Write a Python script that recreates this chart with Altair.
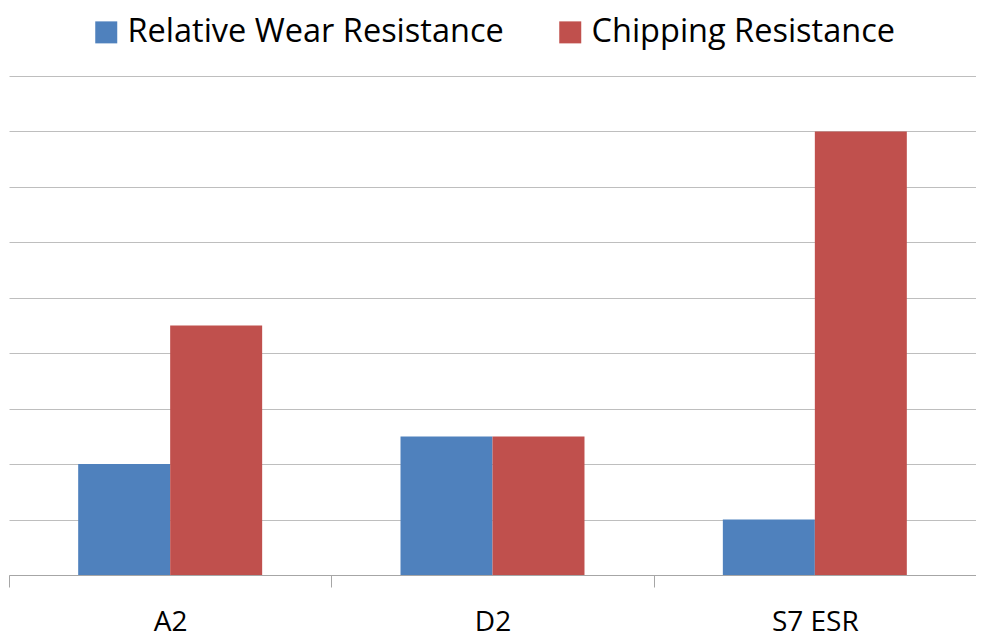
import altair as alt
import pandas as pd

categories = ["A2", "D2", "S7 ESR"]
series = ["Relative Wear Resistance", "Chipping Resistance"]
wear = [2, 2.5, 1]
chipping = [4.5, 2.5, 8]
colors = ["#4F81BD", "#C0504D"]

rows = []
for i, c in enumerate(categories):
    rows.append({"cat": c, "series": series[0], "value": wear[i]})
    rows.append({"cat": c, "series": series[1], "value": chipping[i]})
df = pd.DataFrame(rows)

FONT = "Open Sans"

chart = alt.Chart(df).mark_bar().encode(
    x=alt.X("cat:N", sort=categories, title=None,
            scale=alt.Scale(paddingInner=0, paddingOuter=0),
            axis=alt.Axis(labelAngle=0, labelFontSize=28, labelFont=FONT,
                          labelColor="#000000", tickBand="extent", ticks=True,
                          tickSize=12, tickColor="#A6A6A6", domainColor="#A6A6A6",
                          labelPadding=21, grid=False)),
    xOffset=alt.XOffset("series:N", sort=series,
                        scale=alt.Scale(paddingInner=0, paddingOuter=0.752)),
    y=alt.Y("value:Q", title=None,
            scale=alt.Scale(domain=[0, 9], nice=False),
            axis=alt.Axis(values=list(range(0, 10)), labels=False, ticks=False,
                          domain=False, grid=True, gridColor="#BEBEBE")),
    color=alt.Color("series:N", sort=series,
                    scale=alt.Scale(domain=series, range=colors),
                    legend=alt.Legend(title=None, orient="none", direction="horizontal",
                                      legendX=81, legendY=-60, padding=0,
                                      labelFont=FONT, labelFontSize=32.5,
                                      labelColor="#000000", symbolType="square",
                                      symbolSize=484, symbolStrokeWidth=0,
                                      columnPadding=50, labelLimit=600,
                                      labelOffset=5)),
).properties(
    width=967, height=499,
    autosize=alt.AutoSizeParams(type="none"),
    padding={"left": 1, "top": 68, "right": 0, "bottom": 66},
).configure_view(stroke=None)

chart.save("out.html", embed_options={"renderer": "svg", "actions": False})
